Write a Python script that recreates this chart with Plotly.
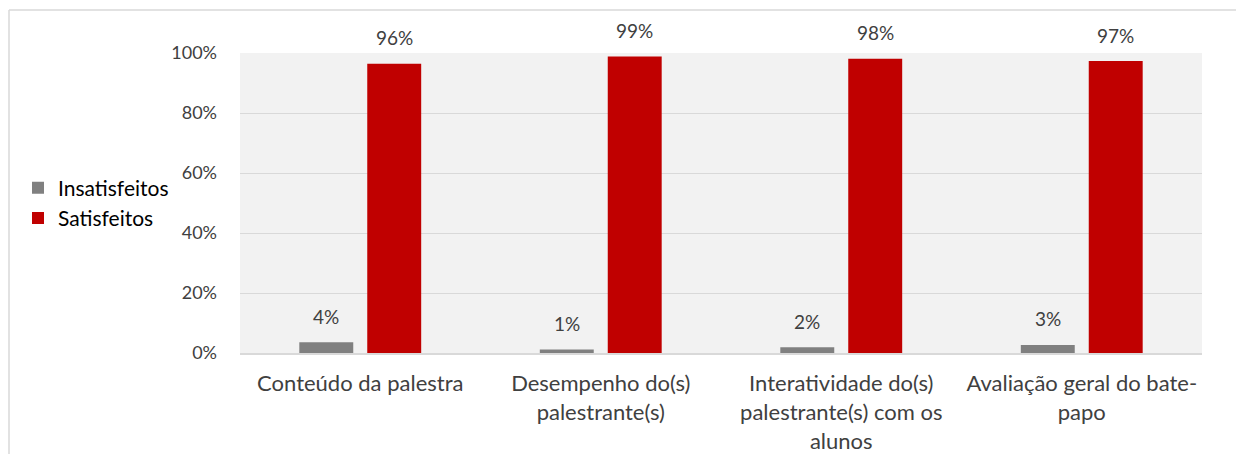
import plotly.graph_objects as go

categories = ["Conteúdo da palestra", "Desempenho do(s)<br>palestrante(s)",
              "Interatividade do(s)<br>palestrante(s) com os<br>alunos",
              "Avaliação geral do bate-<br>papo"]
insatisfeitos = [3.6, 1.2, 1.9, 2.7]
satisfeitos = [96.4, 98.8, 98.1, 97.3]
tick_vals = [0, 20, 40, 60, 80, 100]
tick_text = ["0%", "20%", "40%", "60%", "80%", "100%"]

FONT = "Lato"
GRAY = "#808080"
RED = "#C00000"
TXT = "#404040"

W, H = 1236, 446
L, R, T, B = 232, 42, 45, 101
PW, PH = W - L - R, H - T - B

fig = go.Figure()
fig.add_trace(go.Bar(name="Insatisfeitos", x=categories, y=insatisfeitos,
                     marker=dict(color=GRAY, line=dict(width=0))))
fig.add_trace(go.Bar(name="Satisfeitos", x=categories, y=satisfeitos,
                     marker=dict(color=RED, line=dict(width=0))))

annotations = []
for c, v in zip(categories, insatisfeitos):
    annotations.append(dict(x=c, y=v, xref="x", yref="y", text=f"{v:.0f}%",
                            showarrow=False, xshift=-34, yshift=26,
                            font=dict(family=FONT, size=19, color=TXT)))
for c, v in zip(categories, satisfeitos):
    annotations.append(dict(x=c, y=v, xref="x", yref="y", text=f"{v:.0f}%",
                            showarrow=False, xshift=34, yshift=26,
                            font=dict(family=FONT, size=19, color=TXT)))

fig.update_layout(
    width=W, height=H,
    margin=dict(l=L, r=R, t=T, b=B, autoexpand=False),
    paper_bgcolor="white", plot_bgcolor="#F2F2F2",
    barmode="group", bargap=0.435, bargroupgap=0.206,
    font=dict(family=FONT, size=19, color=TXT),
    annotations=annotations,
    legend=dict(x=(10 - L) / PW, y=0.5, xanchor="left", yanchor="middle",
                font=dict(family=FONT, size=21, color="#000000"),
                bgcolor="rgba(0,0,0,0)", itemclick=False, tracegroupgap=0),
    xaxis=dict(showgrid=False, showline=True, linecolor="#D9D9D9", linewidth=2,
               tickfont=dict(family=FONT, size=22, color=TXT), ticks="",
               ticklabelstandoff=10, automargin=False),
    yaxis=dict(range=[0, 100], tickvals=tick_vals, ticktext=tick_text,
               showgrid=True, gridcolor="#D9D9D9", gridwidth=1, zeroline=False,
               showline=False, ticks="", ticklabelstandoff=22, automargin=False,
               tickfont=dict(family=FONT, size=18, color=TXT)),
    shapes=[
        dict(type="line", xref="paper", yref="paper", x0=(1 - L) / PW, x1=(W - L) / PW,
             y0=(H - B - 2) / PH, y1=(H - B - 2) / PH, line=dict(color="#D9D9D9", width=1.5)),
        dict(type="line", xref="paper", yref="paper", x0=(1 - L) / PW, x1=(1 - L) / PW,
             y0=(H - B - 2) / PH, y1=-B / PH, line=dict(color="#D9D9D9", width=1.5)),
    ],
)
fig.write_html("out.html")
